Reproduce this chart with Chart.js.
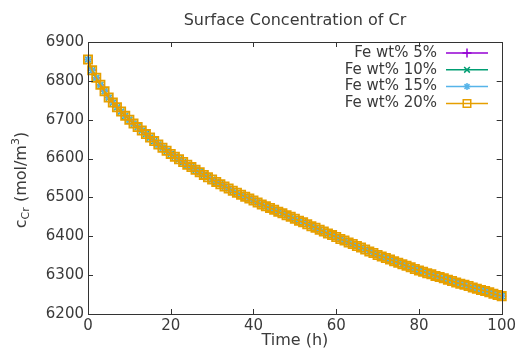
<!DOCTYPE html>
<html>
<head>
<meta charset="utf-8">
<script src="https://cdn.jsdelivr.net/npm/chart.js@4.4.1/dist/chart.umd.min.js"></script>
<style>
    html, body { margin: 0; padding: 0; background: #fff; }
    #wrap { width: 519px; height: 349px; }
</style>
</head>
<body>
<div id="wrap"><canvas id="concChart" width="519" height="349"></canvas></div>
<script>
// Время, ч (шаг 1 ч)
const hours = Array.from({ length: 101 }, (_, i) => i);

// Поверхностная концентрация Cr, моль/м3 (все четыре кривые совпадают на картинке)
const crSurface = [
    6855, 6827, 6808, 6790, 6773, 6757, 6744, 6732, 6721, 6710,
    6700, 6690, 6681, 6672, 6663, 6654, 6645, 6636, 6628, 6620,
    6612, 6605, 6598, 6591, 6584, 6578, 6571, 6565, 6558, 6552,
    6546, 6540, 6534, 6528, 6523, 6517, 6512, 6507, 6502, 6497,
    6492, 6487, 6482, 6477, 6473, 6468, 6463, 6459, 6454, 6450,
    6445, 6440, 6436, 6431, 6426, 6422, 6417, 6412, 6407, 6403,
    6398, 6393, 6389, 6384, 6380, 6375, 6371, 6366, 6361, 6357,
    6352, 6348, 6344, 6340, 6336, 6332, 6328, 6324, 6320, 6316,
    6312, 6309, 6305, 6302, 6298, 6295, 6292, 6288, 6285, 6281,
    6278, 6275, 6272, 6268, 6265, 6262, 6259, 6256, 6252, 6249,
    6246
];

const seriesNames = ['Fe wt% 5%', 'Fe wt% 10%', 'Fe wt% 15%', 'Fe wt% 20%'];
const seriesColors = ['#9400d3', '#009e73', '#56b4e9', '#e69f00'];
const seriesMarkers = ['cross', 'crossRot', 'star', 'rect'];
const markerRadius = [4.5, 4, 3.5, 5.8];
const drawOrder = [3, 2, 1, 0];

const xTicks = [0, 20, 40, 60, 80, 100];
const yTicks = [6200, 6300, 6400, 6500, 6600, 6700, 6800, 6900];

const FONT = '"DejaVu Sans", sans-serif';
const TEXT_COLOR = '#3a3a3a';

// Отрисовка маркера
function drawMarker(ctx, style, r, x, y) {
    ctx.fillStyle = 'rgba(0,0,0,0)';
    if (Chart.helpers && Chart.helpers.drawPoint) {
        Chart.helpers.drawPoint(ctx, { pointStyle: style, radius: r, rotation: 0, borderWidth: ctx.lineWidth }, x, y);
        return;
    }
    ctx.beginPath();
    ctx.rect(x - r * 0.7, y - r * 0.7, r * 1.4, r * 1.4);
    ctx.stroke();
}

// Плагин: рамка, внутренние засечки, заголовок, подписи осей, легенда
const decorPlugin = {
    id: 'decor',
    afterDraw(chart) {
        const ctx = chart.ctx;
        const area = chart.chartArea;
        const xs = chart.scales.x;
        const ys = chart.scales.y;
        ctx.save();

        // рамка
        ctx.strokeStyle = '#333';
        ctx.lineWidth = 1;
        ctx.strokeRect(Math.round(area.left) + 0.5, Math.round(area.top) + 0.5,
            Math.round(area.right - area.left), Math.round(area.bottom - area.top));

        // засечки внутрь
        ctx.beginPath();
        xTicks.forEach(v => {
            const px = Math.round(xs.getPixelForValue(v)) + 0.5;
            ctx.moveTo(px, area.bottom); ctx.lineTo(px, area.bottom - 5);
            ctx.moveTo(px, area.top); ctx.lineTo(px, area.top + 5);
        });
        yTicks.forEach(v => {
            const py = Math.round(ys.getPixelForValue(v)) + 0.5;
            ctx.moveTo(area.left, py); ctx.lineTo(area.left + 5, py);
            ctx.moveTo(area.right, py); ctx.lineTo(area.right - 5, py);
        });
        ctx.stroke();

        // заголовок
        ctx.fillStyle = TEXT_COLOR;
        ctx.textAlign = 'center';
        ctx.textBaseline = 'middle';
        ctx.font = '16px ' + FONT;
        ctx.fillText('Surface Concentration of Cr', 295, 21);

        // подпись оси X
        ctx.font = '16px ' + FONT;
        ctx.fillText('Time (h)', (area.left + area.right) / 2, 341);

        // подпись оси Y: c_Cr (mol/m^3)
        const parts = [
            { t: 'c', size: 16, dy: 0 },
            { t: 'Cr', size: 11, dy: 4 },
            { t: ' (mol/m', size: 16, dy: 0 },
            { t: '3', size: 11, dy: -6 },
            { t: ')', size: 16, dy: 0 }
        ];
        let total = 0;
        parts.forEach(p => {
            ctx.font = p.size + 'px ' + FONT;
            p.w = ctx.measureText(p.t).width;
            total += p.w;
        });
        ctx.translate(22, 180);
        ctx.rotate(-Math.PI / 2);
        ctx.textAlign = 'left';
        let cx = -total / 2;
        parts.forEach(p => {
            ctx.font = p.size + 'px ' + FONT;
            ctx.fillText(p.t, cx, p.dy);
            cx += p.w;
        });
        ctx.setTransform(1, 0, 0, 1, 0, 0);

        // легенда
        ctx.font = '15px ' + FONT;
        ctx.textAlign = 'right';
        seriesNames.forEach((name, i) => {
            const rowY = 53 + i * 16.8;
            ctx.fillStyle = TEXT_COLOR;
            ctx.fillText(name, 437, rowY);
            ctx.strokeStyle = seriesColors[i];
            ctx.lineWidth = 1.5;
            ctx.beginPath();
            ctx.moveTo(446, rowY);
            ctx.lineTo(488, rowY);
            ctx.stroke();
            drawMarker(ctx, seriesMarkers[i], Math.min(markerRadius[i], 5.3), 467, rowY);
        });

        ctx.restore();
    }
};

function buildDatasets() {
    return seriesNames.map((name, i) => ({
        label: name,
        data: hours.map((h, k) => ({ x: h, y: crSurface[k] })),
        borderColor: seriesColors[i],
        backgroundColor: 'transparent',
        borderWidth: i === 3 ? 1.8 : 1.2,
        pointStyle: seriesMarkers[i],
        pointRadius: markerRadius[i],
        pointBorderWidth: i === 3 ? 1.8 : 1.5,
        pointBorderColor: seriesColors[i],
        pointBackgroundColor: 'transparent',
        tension: 0,
        clip: false,
        order: drawOrder[i]
    }));
}

document.addEventListener('DOMContentLoaded', () => {
    const ctx = document.getElementById('concChart').getContext('2d');
    new Chart(ctx, {
        type: 'line',
        data: { datasets: buildDatasets() },
        options: {
            responsive: false,
            animation: false,
            events: [],
            layout: { padding: { left: 0, right: 16, top: 42, bottom: 0 } },
            plugins: {
                legend: { display: false },
                title: { display: false },
                tooltip: { enabled: false }
            },
            scales: {
                x: {
                    type: 'linear',
                    min: 0,
                    max: 100,
                    afterFit(scale) { scale.height = 35; },
                    afterBuildTicks(scale) { scale.ticks = xTicks.map(v => ({ value: v })); },
                    grid: { display: false, drawTicks: false },
                    border: { display: false },
                    ticks: {
                        autoSkip: false,
                        maxRotation: 0,
                        padding: 3,
                        color: TEXT_COLOR,
                        font: { family: FONT, size: 15 },
                        callback: v => String(v)
                    }
                },
                y: {
                    type: 'linear',
                    min: 6200,
                    max: 6900,
                    afterFit(scale) { scale.width = 88; },
                    afterBuildTicks(scale) { scale.ticks = yTicks.map(v => ({ value: v })); },
                    grid: { display: false, drawTicks: false },
                    border: { display: false },
                    ticks: {
                        autoSkip: false,
                        padding: 4,
                        color: TEXT_COLOR,
                        font: { family: FONT, size: 15 },
                        callback: v => String(v)
                    }
                }
            }
        },
        plugins: [decorPlugin]
    });
});
</script>
</body>
</html>
